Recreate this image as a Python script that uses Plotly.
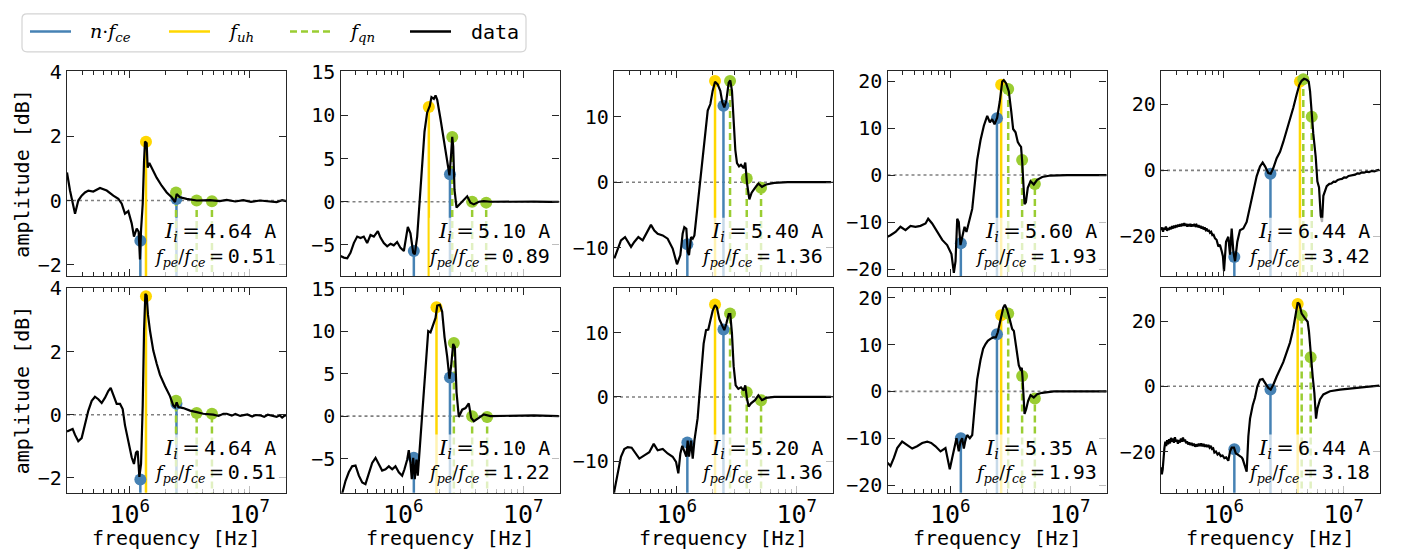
import plotly.graph_objects as go

# ---------------- data ----------------
# spectra: (log10 frequency [Hz], amplitude [dB])
spec_r1c1 = [(5.477,0.87),(5.502,0.31),(5.544,-0.41),(5.571,0.0),(5.599,0.15),(5.627,0.25),(5.655,0.31),(5.696,0.28),
             (5.752,0.39),(5.808,0.31),(5.863,0.15),(5.905,0.05),(5.933,-0.10),(5.960,-0.41),(5.988,-0.33),(6.016,-0.71),
             (6.035,-1.12),(6.058,-0.87),(6.074,-0.97),(6.085,-1.83),(6.094,-0.92),(6.108,-0.10),(6.119,1.22),(6.127,1.83),
             (6.141,1.78),(6.149,1.02),(6.163,1.17),(6.183,1.02),(6.224,0.71),(6.266,0.46),(6.308,0.25),(6.349,0.10),
             (6.377,-0.05),(6.391,0.20),(6.419,0.10),(6.474,0.05),(6.558,0.0),(6.669,0.01),(6.750,-0.02),(6.808,0.02),
             (6.880,-0.03),(6.946,0.01),(7.010,-0.04),(7.085,0.0),(7.150,-0.03),(7.224,-0.05),(7.270,0.01),(7.308,-0.02)]
spec_r1c2 = [(5.477,-6.27),(5.505,-6.46),(5.533,-6.53),(5.560,-5.9),(5.588,-4.78),(5.616,-4.03),(5.644,-4.2),(5.671,-4.03),
             (5.699,-4.78),(5.727,-3.84),(5.755,-4.03),(5.788,-3.4),(5.810,-4.14),(5.838,-4.78),(5.866,-5.15),(5.894,-4.85),
             (5.921,-5.04),(5.949,-4.66),(5.977,-5.34),(6.005,-5.7),(6.038,-2.9),(6.060,-3.66),(6.083,-5.9),(6.096,-6.08),
             (6.116,-4.03),(6.138,0.26),(6.152,4.0),(6.177,8.1),(6.199,10.3),(6.221,11.08),(6.235,12.1),(6.255,11.9),
             (6.269,12.3),(6.283,11.8),(6.310,9.6),(6.338,6.98),(6.366,4.74),(6.385,3.06),(6.399,5.5),(6.408,7.5),
             (6.416,6.4),(6.427,1.4),(6.444,-0.67),(6.471,-0.3),(6.505,0.26),(6.533,0.63),(6.560,-0.1),(6.588,-0.3),
             (6.630,0.0),(6.671,0.07),(6.727,0.0),(6.810,0.02),(6.949,-0.02),(7.088,0.01),(7.227,-0.02),(7.296,0.0)]
spec_r1c3 = [(5.480,-11.6),(5.508,-10.35),(5.535,-8.85),(5.569,-8.35),(5.591,-9.1),(5.619,-9.85),(5.646,-9.1),(5.680,-8.35),
             (5.716,-8.85),(5.752,-7.6),(5.785,-6.5),(5.813,-7.35),(5.841,-7.85),(5.883,-8.1),(5.924,-8.6),(5.966,-10.1),
             (6.002,-12.5),(6.030,-11.1),(6.049,-7.85),(6.063,-6.85),(6.080,-7.1),(6.091,-10.6),(6.102,-11.1),(6.119,-8.35),
             (6.133,-8.6),(6.147,-8.1),(6.161,-5.6),(6.180,-2.6),(6.197,-0.1),(6.216,3.65),(6.235,7.4),(6.258,10.9),
             (6.280,11.9),(6.299,13.9),(6.319,15.3),(6.341,14.9),(6.363,13.9),(6.380,12.15),(6.396,11.4),(6.413,12.4),
             (6.433,15.15),(6.446,15.5),(6.460,13.9),(6.474,8.9),(6.488,4.9),(6.502,2.9),(6.519,2.4),(6.535,2.65),
             (6.558,2.15),(6.571,3.0),(6.585,-0.1),(6.605,-2.6),(6.624,-1.6),(6.652,-0.85),(6.680,-0.2),(6.710,-0.7),
             (6.744,-0.35),(6.813,-0.1),(6.924,0.0),(7.091,0.0),(7.285,0.0)]
spec_r1c4 = [(5.477,-13.1),(5.502,-12.8),(5.544,-12.1),(5.585,-11.0),(5.627,-11.7),(5.669,-10.8),(5.710,-11.0),(5.752,-10.8),
             (5.794,-10.3),(5.816,-9.3),(5.849,-10.3),(5.891,-12.1),(5.933,-13.8),(5.974,-14.9),(6.010,-16.8),(6.030,-20.8),
             (6.044,-18.3),(6.058,-9.3),(6.071,-10.0),(6.085,-14.9),(6.102,-13.1),(6.119,-11.0),(6.135,-12.1),(6.155,-10.0),
             (6.183,-7.2),(6.205,-1.7),(6.224,3.2),(6.252,7.4),(6.280,10.5),(6.308,12.6),(6.330,11.2),(6.349,11.9),
             (6.369,10.8),(6.391,12.2),(6.413,15.7),(6.433,19.9),(6.446,20.2),(6.466,19.5),(6.488,17.8),(6.508,13.6),
             (6.524,9.8),(6.544,9.1),(6.563,7.0),(6.580,6.3),(6.590,6.0),(6.599,3.0),(6.612,-3.0),(6.619,-6.2),
             (6.630,-5.8),(6.646,-2.7),(6.669,-1.3),(6.696,-2.0),(6.724,-1.0),(6.766,-0.4),(6.835,-0.1),(6.974,0.0),(7.308,0.0)]
spec_r1c5 = [(5.477,-18.1),(5.486,-17.3),(5.494,-18.6),(5.503,-17.4),(5.510,-17.9),(5.518,-17.0),(5.527,-18.3),(5.535,-17.5),
             (5.544,-18.0),(5.552,-17.2),(5.561,-17.8),(5.569,-16.9),(5.578,-17.6),(5.586,-16.7),(5.594,-17.4),(5.603,-16.6),
             (5.611,-17.2),(5.620,-16.4),(5.628,-17.0),(5.637,-16.3),(5.645,-16.9),(5.654,-16.1),(5.662,-16.8),(5.671,-16.0),
             (5.679,-16.7),(5.688,-16.2),(5.696,-17.0),(5.705,-16.3),(5.713,-16.9),(5.722,-16.2),(5.730,-17.0),(5.739,-16.4),
             (5.747,-16.9),(5.756,-16.2),(5.764,-16.8),(5.773,-16.5),(5.781,-17.2),(5.790,-16.6),(5.798,-17.3),(5.807,-16.8),
             (5.815,-17.6),(5.824,-17.0),(5.832,-17.9),(5.841,-17.3),(5.849,-18.0),(5.858,-17.6),(5.866,-18.5),(5.875,-18.0),
             (5.885,-18.9),(5.895,-18.6),(5.905,-19.6),(5.915,-19.5),(5.927,-20.6),(5.940,-21.0),(5.955,-23.0),(5.968,-22.5),
             (5.983,-24.5),(5.993,-26.0),(6.002,-30.5),(6.019,-21.6),(6.038,-20.1),(6.052,-25.5),(6.066,-17.6),(6.080,-24.6),
             (6.094,-27.5),(6.113,-21.6),(6.135,-18.1),(6.163,-17.6),(6.191,-15.6),(6.219,-10.7),(6.246,-6.7),(6.274,-1.8),
             (6.302,1.2),(6.324,2.4),(6.344,1.2),(6.371,-0.8),(6.391,-1.0),(6.413,0.7),(6.441,3.7),(6.469,5.6),
             (6.496,8.6),(6.524,12.1),(6.552,15.0),(6.580,19.0),(6.608,23.0),(6.630,25.9),(6.649,27.1),(6.669,27.7),
             (6.691,27.4),(6.708,26.9),(6.719,24.0),(6.733,17.0),(6.746,11.1),(6.766,4.2),(6.780,-3.3),(6.794,-5.2),
             (6.808,-13.7),(6.819,-15.6),(6.830,-7.7),(6.858,-4.8),(6.880,-4.1),(6.897,-4.0),(6.915,-3.4),(6.931,-3.5),
             (6.950,-2.9),(6.968,-2.7),(6.985,-2.6),(7.003,-2.1),(7.022,-2.2),(7.040,-1.7),(7.058,-1.6),(7.076,-1.4),
             (7.095,-1.3),(7.113,-0.9),(7.132,-1.0),(7.150,-0.6),(7.170,-0.7),(7.190,-0.4),(7.210,-0.5),(7.232,-0.2),
             (7.255,-0.3),(7.276,0.0),(7.296,0.2)]
spec_r2c1 = [(5.477,-0.53),(5.502,-0.48),(5.524,-0.45),(5.544,-0.64),(5.571,-0.84),(5.599,-0.74),(5.627,-0.33),(5.655,0.13),
             (5.683,0.44),(5.710,0.57),(5.738,0.49),(5.766,0.37),(5.794,0.54),(5.821,0.75),(5.841,0.85),(5.863,0.65),
             (5.891,0.34),(5.919,0.34),(5.941,0.18),(5.960,-0.33),(5.988,-0.84),(6.016,-1.35),(6.035,-1.56),(6.052,-1.2),
             (6.066,-1.15),(6.080,-1.97),(6.094,-1.56),(6.108,0.29),(6.119,2.65),(6.130,3.83),(6.141,3.77),(6.152,3.16),
             (6.169,2.65),(6.196,2.03),(6.224,1.62),(6.252,1.26),(6.294,0.9),(6.335,0.59),(6.363,0.29),(6.377,0.24),
             (6.391,0.39),(6.405,0.24),(6.446,0.21),(6.502,0.13),(6.558,0.08),(6.613,0.03),(6.696,0.0),(6.740,-0.04),
             (6.780,0.03),(6.808,0.03),(6.850,-0.03),(6.880,0.02),(6.920,-0.04),(6.946,-0.02),(6.980,0.01),(7.020,-0.06),
             (7.050,-0.01),(7.085,-0.02),(7.120,-0.07),(7.150,0.0),(7.190,-0.05),(7.224,-0.07),(7.250,-0.02),(7.270,-0.09),
             (7.290,-0.03),(7.308,-0.02)]
spec_r2c2 = [(5.477,-9.5),(5.491,-9.1),(5.519,-7.6),(5.546,-6.6),(5.574,-5.9),(5.602,-5.8),(5.630,-7.0),(5.658,-7.8),
             (5.685,-8.0),(5.713,-6.8),(5.741,-5.5),(5.769,-4.9),(5.796,-5.7),(5.824,-6.4),(5.852,-6.25),(5.880,-5.9),
             (5.908,-6.25),(5.935,-5.9),(5.963,-6.6),(5.991,-7.0),(6.010,-6.25),(6.033,-5.1),(6.046,-4.0),(6.060,-5.5),
             (6.071,-7.4),(6.083,-4.9),(6.096,-7.4),(6.110,-5.1),(6.121,-7.0),(6.138,-3.6),(6.158,-0.2),(6.177,4.4),
             (6.194,8.1),(6.208,10.0),(6.227,9.85),(6.241,10.4),(6.255,11.2),(6.269,11.55),(6.283,13.0),(6.305,13.1),
             (6.324,12.3),(6.344,9.3),(6.366,7.0),(6.385,4.4),(6.399,5.9),(6.416,8.5),(6.430,8.1),(6.444,2.8),
             (6.463,-0.1),(6.491,0.76),(6.519,0.95),(6.546,1.5),(6.566,-0.2),(6.588,-0.6),(6.630,-0.2),(6.671,0.2),
             (6.727,0.0),(6.900,0.05),(7.088,0.1),(7.296,0.0)]
spec_r2c3 = [(5.477,-15.2),(5.480,-14.6),(5.508,-11.9),(5.535,-9.3),(5.563,-8.1),(5.591,-7.8),(5.624,-7.9),(5.652,-8.6),
             (5.688,-9.6),(5.730,-9.1),(5.771,-8.6),(5.808,-7.3),(5.841,-8.3),(5.883,-8.1),(5.924,-8.8),(5.966,-9.3),
             (5.994,-10.1),(6.013,-11.9),(6.030,-8.8),(6.046,-7.6),(6.063,-8.6),(6.080,-9.3),(6.091,-6.8),(6.102,-9.3),
             (6.119,-6.8),(6.133,-9.6),(6.147,-6.8),(6.161,-5.3),(6.174,-3.3),(6.191,0.76),(6.208,4.8),(6.224,8.3),
             (6.244,10.4),(6.263,10.5),(6.280,11.9),(6.299,13.4),(6.319,14.3),(6.335,13.9),(6.355,12.1),(6.374,11.4),
             (6.396,10.4),(6.413,11.4),(6.433,12.9),(6.446,12.9),(6.460,9.85),(6.474,4.8),(6.491,1.8),(6.513,1.26),
             (6.535,1.5),(6.558,1.0),(6.571,1.8),(6.585,-0.25),(6.599,-1.5),(6.619,-1.0),(6.652,-0.5),(6.680,0.25),
             (6.710,-0.5),(6.744,-0.15),(6.813,0.0),(7.285,0.0)]
spec_r2c4 = [(5.477,-15.2),(5.502,-15.9),(5.530,-14.2),(5.558,-12.1),(5.599,-10.7),(5.641,-11.4),(5.683,-12.2),(5.724,-11.7),
             (5.766,-11.0),(5.808,-10.7),(5.841,-11.0),(5.877,-11.7),(5.919,-12.8),(5.960,-12.1),(5.980,-14.5),(5.996,-16.6),
             (6.016,-14.2),(6.035,-12.1),(6.052,-10.0),(6.071,-12.8),(6.085,-10.7),(6.099,-10.0),(6.113,-12.2),(6.127,-10.3),
             (6.141,-9.3),(6.163,-10.0),(6.183,-9.3),(6.202,-3.75),(6.224,2.5),(6.252,6.7),(6.274,9.1),(6.294,10.1),
             (6.313,10.8),(6.335,11.2),(6.358,11.5),(6.380,11.5),(6.396,12.6),(6.419,15.3),(6.441,17.8),(6.455,18.5),
             (6.474,17.4),(6.496,15.3),(6.516,13.3),(6.530,12.9),(6.552,9.1),(6.571,5.6),(6.585,4.7),(6.596,5.0),
             (6.602,3.0),(6.619,-4.8),(6.633,-3.75),(6.649,-2.0),(6.669,-0.8),(6.696,-1.3),(6.724,-0.6),(6.766,-0.3),
             (6.863,0.0),(7.308,0.0)]
spec_r2c5 = [(5.477,-24.8),(5.484,-27.0),(5.491,-25.5),(5.498,-21.0),(5.505,-19.0),(5.513,-17.0),(5.520,-18.3),(5.528,-16.5),
             (5.536,-17.8),(5.544,-16.2),(5.552,-17.5),(5.560,-15.8),(5.568,-17.0),(5.576,-16.0),(5.585,-17.3),(5.593,-15.6),
             (5.601,-16.9),(5.610,-16.4),(5.618,-17.6),(5.626,-16.5),(5.635,-17.2),(5.643,-16.0),(5.652,-17.0),(5.660,-15.7),
             (5.668,-16.8),(5.677,-16.3),(5.686,-17.4),(5.694,-16.9),(5.703,-17.8),(5.712,-17.2),(5.722,-18.0),(5.732,-17.4),
             (5.742,-18.2),(5.752,-17.6),(5.762,-18.5),(5.772,-17.8),(5.782,-18.4),(5.792,-17.6),(5.802,-18.3),(5.812,-17.5),
             (5.822,-18.4),(5.832,-17.7),(5.842,-18.5),(5.852,-17.9),(5.862,-18.6),(5.872,-18.0),(5.882,-18.8),(5.892,-18.3),
             (5.902,-19.2),(5.912,-19.0),(5.922,-20.3),(5.935,-20.0),(5.948,-20.9),(5.960,-20.5),(5.975,-21.4),(5.990,-21.2),
             (6.005,-22.0),(6.020,-21.8),(6.038,-22.8),(6.052,-20.0),(6.066,-18.8),(6.085,-18.8),(6.100,-20.5),(6.120,-21.0),
             (6.135,-21.3),(6.150,-21.8),(6.158,-22.3),(6.170,-23.5),(6.177,-24.8),(6.191,-26.2),(6.205,-15.3),(6.219,-9.9),
             (6.241,-5.9),(6.260,-3.5),(6.280,0.0),(6.302,2.0),(6.324,2.2),(6.344,1.0),(6.371,-0.5),(6.391,-1.0),
             (6.413,0.5),(6.441,3.0),(6.469,5.1),(6.496,7.4),(6.524,10.4),(6.552,13.4),(6.580,17.8),(6.602,22.3),
             (6.616,25.7),(6.630,25.2),(6.649,22.3),(6.677,20.8),(6.699,19.8),(6.710,16.8),(6.724,9.4),(6.741,3.0),
             (6.755,-2.0),(6.769,-9.9),(6.780,-6.9),(6.802,-4.0),(6.830,-2.5),(6.885,-1.5),(6.969,-1.0),(7.080,-0.5),
             (7.191,-0.2),(7.296,0.2)]

spectra = [spec_r1c1, spec_r1c2, spec_r1c3, spec_r1c4, spec_r1c5,
           spec_r2c1, spec_r2c2, spec_r2c3, spec_r2c4, spec_r2c5]

currents = ["4.64", "5.10", "5.40", "5.60", "6.44", "4.64", "5.10", "5.20", "5.35", "6.44"]
ratios = ["0.51", "0.89", "1.36", "1.93", "3.42", "0.51", "1.22", "1.36", "1.93", "3.18"]

fce = [1.225e6, 1.225e6, 1.225e6, 1.225e6, 1.225e6, 1.225e6, 1.225e6, 1.225e6, 1.225e6, 1.225e6]
harmonics = [1, 2]
nfce_amp = [[-1.25, 0.05], [-5.7, 3.17], [-9.45, 11.65], [-14.5, 12.1], [-26.2, -1.0],
            [-2.05, 0.35], [-4.9, 4.55], [-7.1, 10.5], [-10.0, 12.2], [-19.3, -1.0]]
fuh = [1.365e6, 1.633e6, 2.084e6, 2.655e6, 4.315e6, 1.365e6, 1.892e6, 2.084e6, 2.655e6, 4.130e6]
fuh_amp = [1.83, 10.97, 15.4, 19.2, 26.9, 3.75, 12.8, 14.4, 16.25, 25.2]
fqn = [[2.43e6, 3.61e6, 4.84e6], [2.56e6, 3.75e6, 4.91e6], [2.78e6, 3.83e6, 5.04e6], [3.04e6, 3.97e6, 5.07e6],
       [4.60e6, 5.41e6], [2.43e6, 3.61e6, 4.84e6], [2.64e6, 3.75e6, 5.00e6], [2.78e6, 3.83e6, 5.04e6],
       [3.04e6, 3.97e6, 5.07e6], [4.46e6, 5.30e6]]
fqn_amp = [[0.25, 0.0, -0.02], [7.5, 0.0, -0.1], [15.4, 0.55, -0.85], [18.3, 3.2, -1.9], [27.6, 16.2],
           [0.44, 0.05, 0.03], [8.6, 0.0, -0.1], [13.0, 0.75, -0.5], [16.6, 3.3, -1.5], [21.8, 8.9]]

yranges = [[-2.35, 4.02], [-8.6, 15.1], [-14.3, 16.9], [-21.5, 22.1], [-32.0, 30.0],
           [-2.47, 4.02], [-9.0, 15.1], [-14.9, 17.0], [-21.6, 22.1], [-32.6, 30.2]]
ydticks = [2, 5, 10, 10, 20, 2, 5, 10, 10, 20]
xrange_log = [5.477, 7.302]

legend_labels = ['<i>n</i>·<i>f<sub>ce</sub></i>', '<i>f<sub>uh</sub></i>', '<i>f<sub>qn</sub></i>', 'data']

# ---------------- styling ----------------
W, H = 1403, 554
BLUE = "#4682b4"
GOLD = "#ffd700"
GREEN = "#9acd32"
AXC = "#262626"
MONO = "DejaVu Sans Mono"
SERIF_FONT = "DejaVu Serif"
FS = 20
col_left = [67, 340.5, 614, 887.5, 1161]
col_w = 219
row_top = [62, 285]
row_h = 211
MATH1 = '<span style="font-family:DejaVu Serif;font-size:21px">'
MATH2 = '<span style="font-family:DejaVu Serif;font-size:18px">'
THIN = "\u2009"

fig = go.Figure()
annotations = []
shapes = []

for k in range(10):
    r, c = divmod(k, 5)
    idx = "" if k == 0 else str(k + 1)
    xa, ya = "x" + idx, "y" + idx
    x0 = col_left[c] / W
    x1 = (col_left[c] + col_w) / W
    y1 = 1 - row_top[r] / H
    y0 = 1 - (row_top[r] + row_h) / H
    ylo, yhi = yranges[k]
    ybot = ylo - (yhi - ylo)

    # n * f_ce lines
    xs, ys = [], []
    for n, a in zip(harmonics, nfce_amp[k]):
        xs += [n * fce[k], n * fce[k], None]
        ys += [ybot, a, None]
    fig.add_trace(go.Scatter(x=xs, y=ys, mode="lines", line=dict(color=BLUE, width=2.5),
                             showlegend=False, xaxis=xa, yaxis=ya, hoverinfo="skip"))
    # f_uh line
    fig.add_trace(go.Scatter(x=[fuh[k], fuh[k]], y=[ybot, fuh_amp[k]], mode="lines",
                             line=dict(color=GOLD, width=2.5),
                             showlegend=False, xaxis=xa, yaxis=ya, hoverinfo="skip"))
    # f_qn lines
    xs, ys = [], []
    for f, a in zip(fqn[k], fqn_amp[k]):
        xs += [f, f, None]
        ys += [ybot, a, None]
    fig.add_trace(go.Scatter(x=xs, y=ys, mode="lines", line=dict(color=GREEN, width=2.5, dash="7px,4px"),
                             showlegend=False, xaxis=xa, yaxis=ya, hoverinfo="skip"))
    # dots
    fig.add_trace(go.Scatter(x=[n * fce[k] for n in harmonics], y=nfce_amp[k], mode="markers",
                             marker=dict(color=BLUE, size=12), showlegend=False, xaxis=xa, yaxis=ya))
    fig.add_trace(go.Scatter(x=[fuh[k]], y=[fuh_amp[k]], mode="markers",
                             marker=dict(color=GOLD, size=12), showlegend=False, xaxis=xa, yaxis=ya))
    fig.add_trace(go.Scatter(x=fqn[k], y=fqn_amp[k], mode="markers",
                             marker=dict(color=GREEN, size=12), showlegend=False, xaxis=xa, yaxis=ya))
    # data
    sp = spectra[k]
    fig.add_trace(go.Scatter(x=[10 ** p[0] for p in sp], y=[p[1] for p in sp], mode="lines",
                             line=dict(color="black", width=2.2), showlegend=False, xaxis=xa, yaxis=ya))

    fig.update_layout({
        "xaxis" + idx: dict(domain=[x0, x1], anchor=ya, type="log", range=xrange_log, dtick=1,
                            exponentformat="power", showline=True, linecolor=AXC, linewidth=1.2,
                            mirror="allticks", ticks="inside", ticklen=7, tickwidth=1.2, tickcolor=AXC,
                            showgrid=False, zeroline=False, showticklabels=(r == 1),
                            tickfont=dict(family=MONO, size=FS, color="black"),
                            minor=dict(ticks="inside", ticklen=4, tickwidth=1, tickcolor=AXC,
                                       dtick="D1", showgrid=False)),
        "yaxis" + idx: dict(domain=[y0, y1], anchor=xa, range=yranges[k], dtick=ydticks[k], tick0=0,
                            showline=True, linecolor=AXC, linewidth=1.2, mirror="allticks",
                            ticks="inside", ticklen=7, tickwidth=1.2, tickcolor=AXC,
                            showgrid=False, zeroline=False,
                            tickfont=dict(family=MONO, size=FS, color="black")),
    })

    # zero dotted line
    shapes.append(dict(type="line", xref=xa + " domain", x0=0, x1=1, yref=ya, y0=0, y1=0,
                       line=dict(color="#808080", width=1.6, dash="dot"), layer="below"))
    # translucent text box
    shapes.append(dict(type="rect", xref=xa + " domain", x0=1 - 130 / col_w, x1=1,
                       yref=ya + " domain", y0=0, y1=60 / row_h,
                       fillcolor="rgba(255,255,255,0.7)", line=dict(width=0), layer="above"))
    annotations.append(dict(
        text=MATH1 + '<i>I<sub>i</sub></i>' + THIN + '=' + THIN + '</span>' + currents[k] + ' A',
        xref=xa + " domain", yref=ya + " domain", x=0.965, y=45 / row_h, xanchor="right", yanchor="middle",
        showarrow=False, font=dict(family=MONO, size=FS, color="black")))
    annotations.append(dict(
        text=MATH2 + '<i>f<sub>pe</sub></i>/<i>f<sub>ce</sub></i>' + THIN + '=' + THIN + '</span>' + ratios[k],
        xref=xa + " domain", yref=ya + " domain", x=0.965, y=20 / row_h, xanchor="right", yanchor="middle",
        showarrow=False, font=dict(family=MONO, size=FS, color="black")))

    if r == 1:
        annotations.append(dict(text="frequency [Hz]", xref="paper", yref="paper",
                                x=(col_left[c] + col_w / 2) / W, y=1 - 543 / H,
                                xanchor="center", yanchor="middle", showarrow=False,
                                font=dict(family=MONO, size=FS, color="black")))
    if c == 0:
        annotations.append(dict(text="amplitude [dB]", xref="paper", yref="paper",
                                x=22 / W, y=1 - (row_top[r] + row_h / 2) / H, textangle=-90,
                                xanchor="center", yanchor="middle", showarrow=False,
                                font=dict(family=MONO, size=FS, color="black")))

# ---------------- legend (drawn in paper coordinates) ----------------
lx0, lx1, ly0, ly1, rad = 22, 526, 3, 42, 5
def px(x):
    return x / W
def py(y):
    return 1 - y / H
legend_path = (f"M {px(lx0 + rad)},{py(ly0)} L {px(lx1 - rad)},{py(ly0)} Q {px(lx1)},{py(ly0)} {px(lx1)},{py(ly0 + rad)} "
               f"L {px(lx1)},{py(ly1 - rad)} Q {px(lx1)},{py(ly1)} {px(lx1 - rad)},{py(ly1)} "
               f"L {px(lx0 + rad)},{py(ly1)} Q {px(lx0)},{py(ly1)} {px(lx0)},{py(ly1 - rad)} "
               f"L {px(lx0)},{py(ly0 + rad)} Q {px(lx0)},{py(ly0)} {px(lx0 + rad)},{py(ly0)} Z")
shapes.append(dict(type="path", xref="paper", yref="paper", path=legend_path,
                   line=dict(color="#d4d4d4", width=1.2), fillcolor="white", layer="above"))
leg_line_x = [30, 169, 290, 410]
leg_text_x = [88, 226, 347, 469]
leg_styles = [dict(color=BLUE, width=2.5), dict(color=GOLD, width=2.5),
              dict(color=GREEN, width=2.5, dash="7px,4px"), dict(color="black", width=2.5)]
for i in range(4):
    shapes.append(dict(type="line", xref="paper", yref="paper", x0=px(leg_line_x[i]), x1=px(leg_line_x[i] + 41),
                       y0=py(21), y1=py(21), line=leg_styles[i], layer="above"))
    is_math = i < 3
    annotations.append(dict(text=legend_labels[i], xref="paper", yref="paper",
                            x=px(leg_text_x[i]), y=py(22), xanchor="left", yanchor="middle", showarrow=False,
                            font=dict(family=SERIF_FONT if is_math else MONO, size=19 if is_math else FS,
                                      color="black")))

fig.update_layout(
    width=W, height=H, margin=dict(l=0, r=0, t=0, b=0),
    paper_bgcolor="white", plot_bgcolor="white",
    shapes=shapes, annotations=annotations, showlegend=False,
)

fig.write_html("out.html")
